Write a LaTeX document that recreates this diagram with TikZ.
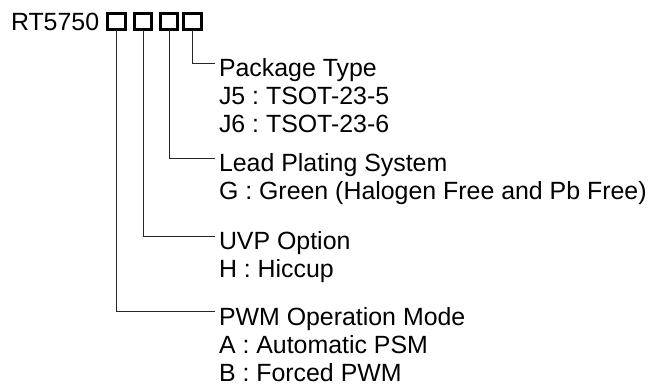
\documentclass[tikz,border=0pt]{standalone}
\usepackage{fontspec}
\setmainfont{Liberation Sans}
\frenchspacing
\begin{document}
\begin{tikzpicture}[x=1pt,y=-1pt,
  codebox/.style={draw=black, line width=3pt, minimum width=17.5pt, minimum height=16.5pt, inner sep=0pt, outer sep=0pt},
  txt/.style={anchor=base west, inner sep=0pt, outer sep=0pt, font=\fontsize{24.9}{28}\selectfont},
  conn/.style={line width=1pt, draw=black!85}]
\useasboundingbox (0,0) rectangle (654,388);
\node[txt] (title) at (11,30.7) {RT5750};
\node[codebox] (c1) at (116.5,21.5) {};
\node[codebox] (c2) at (143,21.5) {};
\node[codebox] (c3) at (169,21.5) {};
\node[codebox] (c4) at (192.5,21.5) {};
% Package type
\node[txt] (p0) at (219,76.7) {Package Type};
\node[txt] (p1) at (219,104.7) {J5 : TSOT-23-5};
\node[txt] (p2) at (219,132.7) {J6 : TSOT-23-6};
% Lead plating
\node[txt] (l0) at (219,171.4) {Lead Plating System};
\node[txt] (l1) at (219,199.4) {G : Green (Halogen Free and Pb Free)};
% UVP
\node[txt] (u0) at (219,249.4) {UVP Option};
\node[txt] (u1) at (219,277.4) {H : Hiccup};
% PWM
\node[txt] (w0) at (219,325) {PWM Operation Mode};
\node[txt] (w1) at (219,353) {A : Automatic PSM};
\node[txt] (w2) at (219,381) {B : Forced PWM};
% connectors
\draw[conn] (c4.south) |- ([xshift=-4pt,yshift=13.4pt]p0.base west);
\draw[conn] (c3.south) |- ([xshift=-4pt,yshift=13.4pt]l0.base west);
\draw[conn] (c2.south) |- ([xshift=-4pt,yshift=13.4pt]u0.base west);
\draw[conn] (c1.south) |- ([xshift=-4pt,yshift=13.4pt]w0.base west);
\end{tikzpicture}
\end{document}
